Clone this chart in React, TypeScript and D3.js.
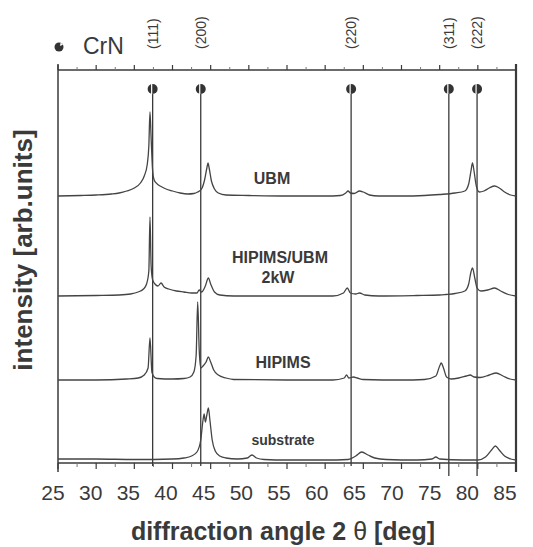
import React from "react";
import * as d3 from "d3";

// ---- data ----
const xTicks = [25, 30, 35, 40, 45, 50, 55, 60, 65, 70, 75, 80, 85];
const minorTicks = [27.5, 32.5, 37.5, 42.5, 47.5, 52.5, 57.5, 62.5, 67.5, 72.5, 77.5, 82.5];
const crnPeaks = [37.4, 43.7, 63.4, 76.2, 79.9];
const crnLabels = ["(111)", "(200)", "(220)", "(311)", "(222)"];
const seriesNames = ["UBM", "HIPIMS/UBM 2kW", "HIPIMS", "substrate"];
const seriesOffsets = [267, 167, 83, 3];

const ubm: [number, number][] = [
  [25, 0], [28, 0.5], [30, 1], [32, 2], [33, 3], [34, 5], [35, 8], [35.8, 13], [36.3, 20], [36.7, 32],
  [36.9, 50], [37.05, 84], [37.2, 58], [37.4, 25], [37.6, 16], [38, 12], [38.5, 9.5], [39, 7.5], [40, 5],
  [41, 3], [42, 2], [42.8, 2.5], [43.3, 4], [43.8, 7], [44.2, 16], [44.5, 28], [44.65, 33], [44.8, 28],
  [45.1, 15], [45.5, 7], [46, 3], [47, 1], [50, 0.5], [55, 0], [60, 0], [62, 0.5], [62.7, 3], [63.0, 5],
  [63.3, 3], [63.8, 2.5], [64.5, 5], [65, 4], [65.8, 1], [67, 0], [70, 0], [73, 0.5], [75, 1.5], [77, 3],
  [78.3, 5], [78.8, 12], [79.1, 25], [79.3, 33], [79.5, 25], [79.8, 10], [80.2, 4], [80.8, 5], [81.5, 8],
  [82.2, 10], [82.8, 8], [83.5, 4], [84.3, 1], [85, 0],
];
const hipimsUbm: [number, number][] = [
  [25, 0], [30, 0.5], [33, 1], [34.5, 2], [35.5, 4], [36.2, 7], [36.6, 12], [36.9, 25], [37.05, 79],
  [37.2, 30], [37.4, 16], [37.7, 12], [38.1, 10], [38.5, 13], [38.9, 9], [39.5, 7], [40.5, 5], [41.5, 4],
  [42.5, 3], [43.2, 3], [43.5, 6], [43.8, 4], [44.3, 10], [44.7, 18], [45, 12], [45.5, 4], [46.2, 1],
  [48, 0], [55, 0], [61, 0], [62.4, 3], [62.9, 8], [63.3, 3], [64, 2], [64.5, 3], [65.2, 1], [67, 0],
  [72, 0.5], [75, 1], [75.8, 1.5], [77, 2.5], [78.3, 5], [78.8, 12], [79.1, 24], [79.3, 28], [79.6, 18],
  [79.9, 8], [80.4, 5], [81.3, 6], [82.2, 8], [83, 5], [84, 1.5], [85, 0],
];
const hipims: [number, number][] = [
  [25, 0], [30, 0], [34, 1], [35.5, 2], [36.3, 5], [36.8, 12], [37.05, 42], [37.3, 8], [37.6, 3], [38, 1.5],
  [40, 1], [41.5, 1.5], [42.3, 3], [42.8, 8], [43.1, 25], [43.3, 78], [43.5, 30], [43.7, 12], [44, 14],
  [44.4, 18], [44.7, 23], [45, 18], [45.4, 10], [46, 5], [47, 2], [48, 0.5], [55, 0], [61, 0], [62.5, 2],
  [62.8, 5], [63.1, 2], [63.7, 3], [64.2, 2], [65, 0.5], [70, 0], [73, 0.5], [74.5, 4], [75.0, 14],
  [75.2, 17], [75.5, 12], [75.9, 3], [76.5, 1], [77.5, 2], [78.5, 4], [79.0, 5], [79.5, 3], [80.3, 2.5],
  [81.5, 5], [82.4, 7], [83.3, 4], [84.2, 1], [85, 0],
];
const substrate: [number, number][] = [
  [25, 1], [30, 1], [35, 0.5], [40, 1], [41.5, 2], [42.5, 4], [43.2, 8], [43.7, 20], [44.0, 40],
  [44.15, 46], [44.3, 38], [44.5, 45], [44.7, 52], [44.9, 40], [45.2, 20], [45.6, 9], [46.2, 4], [47, 2],
  [48.5, 1], [49.8, 2], [50.4, 5], [51, 2], [52, 0.5], [55, 0], [60, 0], [63, 0.5], [64, 4], [64.8, 8],
  [65.6, 5], [66.5, 2], [68, 0.5], [72, 0], [74, 1], [74.5, 3], [75, 1], [78, 0], [80, 0], [81, 3],
  [81.8, 10], [82.3, 14], [82.8, 10], [83.5, 4], [84.3, 1], [85, 0],
];
const seriesData = [ubm, hipimsUbm, hipims, substrate];

const FONT = "'Liberation Sans', Arial, sans-serif";
const INK = "#3a3a3a";

export default function App() {
  const W = 533, H = 547;
  const x = d3.scaleLinear().domain([25, 85]).range([58, 516]);
  const xLab = d3.scaleLinear().domain([25, 85]).range([53, 505]);
  const y = d3.scaleLinear().domain([0, 393]).range([463, 70]);
  const top = 70, bottom = 463;

  const lines = seriesData.map((s, i) =>
    d3.line<[number, number]>()
      .x((d) => x(d[0]))
      .y((d) => y(d[1] + seriesOffsets[i]))
      .curve(d3.curveMonotoneX)(s) as string
  );

  const lineBottoms = [466, 466, 466, 476, 476];
  const lx = 59, ly = 47, lr = 4.5;
  const a1 = (-70 * Math.PI) / 180, a2 = (-30 * Math.PI) / 180;

  return (
    <svg width={W} height={H} style={{ position: "absolute", left: 0, top: 0, background: "#fff" }}>
      <rect x={0} y={0} width={W} height={H} fill="#fff" />
      {/* frame */}
      <line x1={x(25)} x2={x(85)} y1={top} y2={top} stroke={INK} strokeWidth={1.5} />
      <line x1={x(25)} x2={x(85)} y1={bottom} y2={bottom} stroke={INK} strokeWidth={1.5} />
      <line x1={x(25)} x2={x(25)} y1={top - 6} y2={bottom + 9} stroke={INK} strokeWidth={1.5} />
      <line x1={x(85)} x2={x(85)} y1={top - 6} y2={bottom + 9} stroke={INK} strokeWidth={2.2} />
      {/* ticks */}
      {xTicks.map((t) => (
        <g key={"t" + t}>
          <line x1={x(t)} x2={x(t)} y1={top} y2={top - 5} stroke={INK} strokeWidth={1.2} />
          <line x1={x(t)} x2={x(t)} y1={bottom} y2={bottom + 6} stroke={INK} strokeWidth={1.2} />
          <text x={xLab(t)} y={500} textAnchor="middle" fontFamily={FONT} fontSize={21} fill={INK}>{t}</text>
        </g>
      ))}
      {minorTicks.map((t) => (
        <g key={"m" + t}>
          <line x1={x(t)} x2={x(t)} y1={top} y2={top - 3} stroke="#777" strokeWidth={1} />
          <line x1={x(t)} x2={x(t)} y1={bottom} y2={bottom + 4} stroke="#777" strokeWidth={1} />
        </g>
      ))}
      {/* CrN reference lines */}
      {crnPeaks.map((p, i) => (
        <g key={"p" + p}>
          <line x1={x(p)} x2={x(p)} y1={94} y2={lineBottoms[i]} stroke={INK} strokeWidth={1.3} />
          <circle cx={x(p)} cy={89} r={5} fill="#333" />
          <line x1={x(p) - 1} x2={x(p) - 1} y1={84} y2={94} stroke="#fff" strokeWidth={1.2} />
          <text transform={`translate(${x(p) + 5},${49}) rotate(-90)`} fontFamily={FONT} fontSize={14} fill={INK}>{crnLabels[i]}</text>
        </g>
      ))}
      {/* legend */}
      <circle cx={lx} cy={ly} r={lr} fill="#333" />
      <path
        d={`M${lx + 1},${ly - 1} L${lx + lr * Math.cos(a1)},${ly + lr * Math.sin(a1)} A${lr},${lr} 0 0 1 ${lx + lr * Math.cos(a2)},${ly + lr * Math.sin(a2)} Z`}
        fill="#fff"
      />
      <text x={83} y={54} fontFamily={FONT} fontSize={23} fill={INK}>CrN</text>
      {/* spectra */}
      {lines.map((d, i) => (
        <path key={"s" + i} d={d} fill="none" stroke="#444" strokeWidth={1.3} strokeLinejoin="round" />
      ))}
      {/* series labels */}
      <text x={272} y={184} textAnchor="middle" fontFamily={FONT} fontWeight="bold" fontSize={16} fill={INK}>{seriesNames[0]}</text>
      <text x={280} y={263} textAnchor="middle" fontFamily={FONT} fontWeight="bold" fontSize={16} fill={INK}>{seriesNames[1].split(" ")[0]}</text>
      <text x={278} y={283} textAnchor="middle" fontFamily={FONT} fontWeight="bold" fontSize={16} fill={INK}>{seriesNames[1].split(" ")[1]}</text>
      <text x={283} y={368} textAnchor="middle" fontFamily={FONT} fontWeight="bold" fontSize={16} fill={INK}>{seriesNames[2]}</text>
      <text x={283} y={445} textAnchor="middle" fontFamily={FONT} fontWeight="bold" fontSize={14} fill={INK}>{seriesNames[3]}</text>
      {/* axis titles */}
      <text transform="translate(32,250) rotate(-90)" textAnchor="middle" fontFamily={FONT} fontWeight="bold" fontSize={26} fill={INK}>intensity [arb.units]</text>
      <text x={283} y={540} textAnchor="middle" fontFamily={FONT} fontWeight="bold" fontSize={25} fill={INK}>
        diffraction angle 2 <tspan fontWeight="normal">θ</tspan> [deg]
      </text>
    </svg>
  );
}
